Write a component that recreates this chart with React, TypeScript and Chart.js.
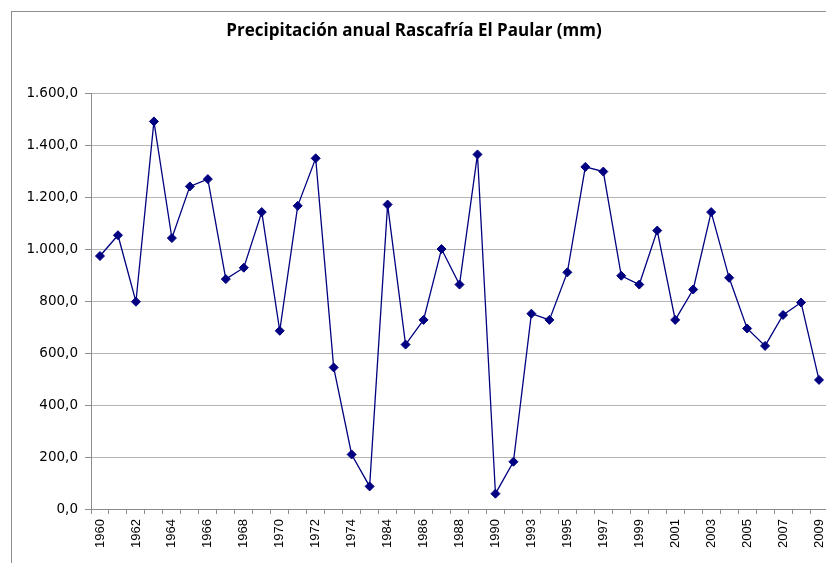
import React, { useEffect, useRef } from "react";
import { Chart, registerables } from "chart.js";

Chart.register(...registerables);

const years: string[] = [
  "1960", "1961", "1962", "1963", "1964", "1965", "1966", "1967", "1968", "1969",
  "1970", "1971", "1972", "1973", "1974", "1975",
  "1984", "1985", "1986", "1987", "1988", "1989", "1990", "1992",
  "1993", "1994", "1995", "1996", "1997", "1998", "1999", "2000", "2001", "2002",
  "2003", "2004", "2005", "2006", "2007", "2008", "2009",
];

const precipitation: number[] = [
  974, 1054, 798, 1492, 1043, 1242, 1270, 885, 929, 1143,
  686, 1167, 1350, 545, 210, 87,
  1172, 633, 728, 1001, 864, 1365, 59, 182,
  752, 728, 911, 1317, 1299, 898, 864, 1072, 728, 845,
  1143, 890, 695, 628, 747, 795, 497,
];

const shownYearLabels: string[] = [
  "1960", "1962", "1964", "1966", "1968", "1970", "1972", "1974",
  "1984", "1986", "1988", "1990", "1993", "1995", "1997", "1999",
  "2001", "2003", "2005", "2007", "2009",
];

const title = "Precipitación anual Rascafría El Paular (mm)";

function fmt(v: number): string {
  const [i, d] = v.toFixed(1).split(".");
  const withDots = i.replace(/\B(?=(\d{3})+(?!\d))/g, ".");
  return withDots + "," + d;
}

const borderPlugin = {
  id: "outerBorder",
  beforeDraw(chart: any) {
    const ctx = chart.ctx;
    ctx.save();
    ctx.fillStyle = "#ffffff";
    ctx.fillRect(0, 0, chart.width, chart.height);
    ctx.strokeStyle = "#8c8c8c";
    ctx.lineWidth = 1;
    ctx.strokeRect(11.5, 11.5, chart.width + 50, chart.height + 50);
    ctx.restore();
  },
};

export default function App() {
  const ref = useRef<HTMLCanvasElement | null>(null);
  useEffect(() => {
    if (!ref.current) return;
    const chart = new Chart(ref.current, {
      type: "line",
      data: {
        labels: years,
        datasets: [
          {
            data: precipitation,
            borderColor: "#000080",
            backgroundColor: "#000080",
            borderWidth: 1.3,
            pointStyle: "rectRot",
            pointRadius: 4.5,
            pointBackgroundColor: "#000080",
            pointBorderColor: "#000080",
            pointBorderWidth: 1,
            tension: 0,
          },
        ],
      },
      options: {
        animation: false,
        responsive: false,
        layout: { padding: { left: 0, right: 12, top: 0, bottom: 0 } },
        plugins: {
          legend: { display: false },
          tooltip: { enabled: false },
          title: {
            display: true,
            text: title,
            color: "#000000",
            font: { family: "Open Sans", size: 17, weight: "bold" },
            padding: { top: 21, bottom: 52 },
          },
        },
        scales: {
          x: {
            type: "category",
            offset: true,
            afterFit(scale: any) {
              scale.height = 54;
            },
            grid: {
              display: true,
              drawOnChartArea: false,
              drawTicks: true,
              tickLength: 5,
              color: "#8c8c8c",
              offset: true,
            },
            border: { display: true, color: "#8c8c8c", width: 1 },
            ticks: {
              autoSkip: false,
              maxRotation: 90,
              minRotation: 90,
              padding: 5,
              color: "#000000",
              font: { family: "Liberation Sans", size: 13 },
              callback: function (this: any, _v: any, index: number) {
                const lab = years[index];
                return shownYearLabels.includes(lab) ? lab : "";
              },
            },
          },
          y: {
            min: 0,
            max: 1600,
            afterFit(scale: any) {
              scale.width = 91;
            },
            grid: {
              color: "#b4b4b4",
              lineWidth: 1,
              tickLength: 6,
              tickColor: "#8c8c8c",
            },
            border: { display: true, color: "#8c8c8c", width: 1 },
            ticks: {
              stepSize: 200,
              padding: 7,
              color: "#000000",
              font: { family: "DejaVu Sans", size: 13.5 },
              callback: (v: any) => fmt(Number(v)),
            },
          },
        },
      },
      plugins: [borderPlugin],
    } as any);
    return () => chart.destroy();
  }, []);

  return (
    <div
      style={{
        position: "fixed",
        left: 0,
        top: 0,
        width: 826,
        height: 563,
        overflow: "hidden",
        background: "#ffffff",
      }}
    >
      <canvas ref={ref} width={840} height={563} style={{ display: "block" }} />
    </div>
  );
}
